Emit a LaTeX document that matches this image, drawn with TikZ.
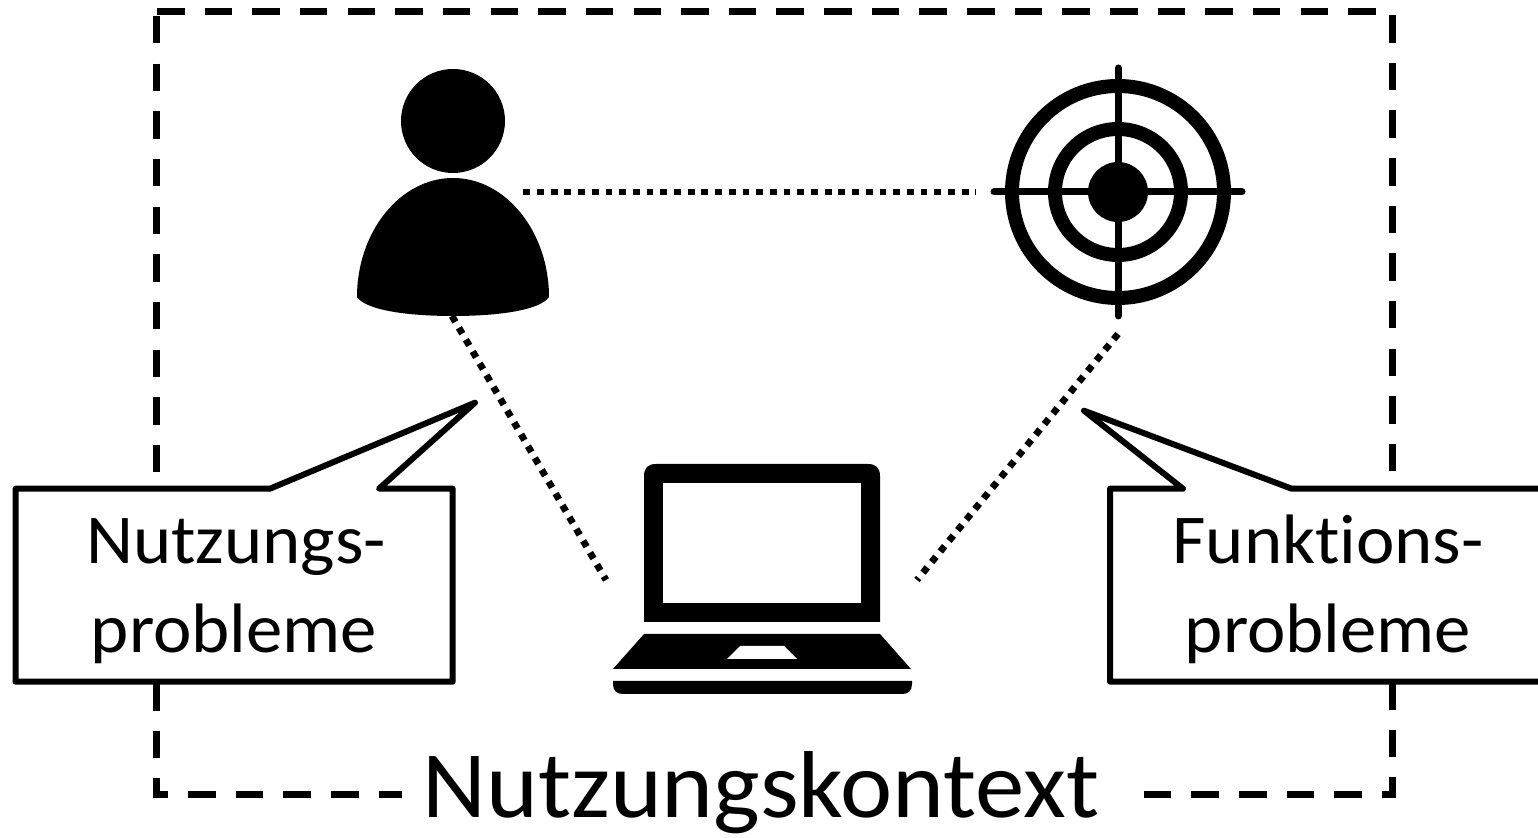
\documentclass[tikz,border=0pt]{standalone}
\usepackage{fontspec}
\setmainfont{Carlito}[Ligatures={NoCommon}]
\newfontfamily\widefont{Carlito}[Ligatures={NoCommon},FakeStretch=1.04]
\tikzset{
  px/.style={x=0.5pt,y=-0.5pt},
  frameline/.style={line width=3.5pt,dash pattern=on 13.75pt off 10.075pt,line join=miter},
  dotline/.style={line width=3.4pt,dash pattern=on 3.4pt off 3.45pt},
  callout/.style={draw,line width=3pt,fill=white,line join=round},
  calltext/.style={font=\widefont\fontsize{35}{44.5}\selectfont,align=center,inner sep=0pt,anchor=base},
  icon/.style={fill=black,draw=none},
  crosshair/.style={line width=3.5pt,line cap=round},
}
\begin{document}
\begin{tikzpicture}[px]
\useasboundingbox (0,0) rectangle (1538,838);
\coordinate (fs) at (156.5,16);
\coordinate (fb) at (156.5,794.5);
\coordinate (fa) at (402,794.5);
\coordinate (ft) at (157,11.7);
\coordinate (fd) at (1392.5,11.7);
\coordinate (fe) at (1392.5,794.5);
\coordinate (ff) at (1142.7,794.5);
\draw[frameline] (fs) -- (fb) -- (fa);
\draw[frameline] (ft) -- (fd) -- (fe) -- (ff);
% person
\node[circle,icon,minimum size=52pt,inner sep=0pt] (head) at (453,121) {};
\fill (357,297) .. controls (357,232) and (400,178) .. (453,178) .. controls (506,178) and (549,232) .. (549,297) .. controls (540,310) and (500,316) .. (453,316) .. controls (406,316) and (366,310) .. (357,297) -- cycle;
% target
\coordinate (tc) at (1118,192);
\draw[line width=7pt] (tc) circle[radius=53pt];
\draw[line width=7pt] (tc) circle[radius=31.5pt];
\fill (tc) circle[radius=15pt];
\draw[crosshair] (994,192) -- (1242,192);
\draw[crosshair] (1118,68) -- (1118,316);
% laptop
\fill (644,622) -- (644,476) .. controls (644,468) and (648,464) .. (656,464) -- (868,464) .. controls (876,464) and (880,468) .. (880,476) -- (880,622) -- cycle;
\fill[white] (663,483) rectangle (861,603);
\fill (644,634) -- (880,634) -- (911,669) -- (613,669) -- cycle;
\fill[white] (740,646) -- (784,646) -- (797,659) -- (727,659) -- cycle;
\fill (613,681) -- (912,681) -- (912,684) .. controls (912,691) and (908,694) .. (902,694) -- (623,694) .. controls (617,694) and (613,691) .. (613,684) -- cycle;
% dotted
\coordinate (p1) at (523.3,192);
\coordinate (p2) at (976,192);
\coordinate (p3) at (452,316);
\coordinate (p4) at (606,580);
\coordinate (p5) at (1118,334);
\coordinate (p6) at (917,580);
\draw[dotline] (p1) -- (p2);
\draw[dotline] (p3) -- (p4);
\draw[dotline] (p5) -- (p6);
% callouts
\draw[callout] (15.5,488.7) -- (270,488.7) -- (475,402.7) -- (379,488.7) -- (452.7,488.7) -- (452.7,681.7) -- (15.5,681.7) -- cycle;
\draw[callout] (1110,488.7) -- (1183,488.7) -- (1084,410.7) -- (1291.7,488.7) -- (1545,488.7) -- (1545,681.7) -- (1110,681.7) -- cycle;
\node[calltext] (t1a) at (236,564) {Nutzungs-};
\node[calltext] (t1b) at (234,653) {probleme};
\node[calltext] (t2a) at (1328,564) {Funktions-};
\node[calltext] (t2b) at (1328,653) {probleme};
\node[font=\widefont\fontsize{47.5}{56}\selectfont,inner sep=0pt,anchor=base] (ctx) at (761,818) {Nutzungskontext};
\end{tikzpicture}
\end{document}
